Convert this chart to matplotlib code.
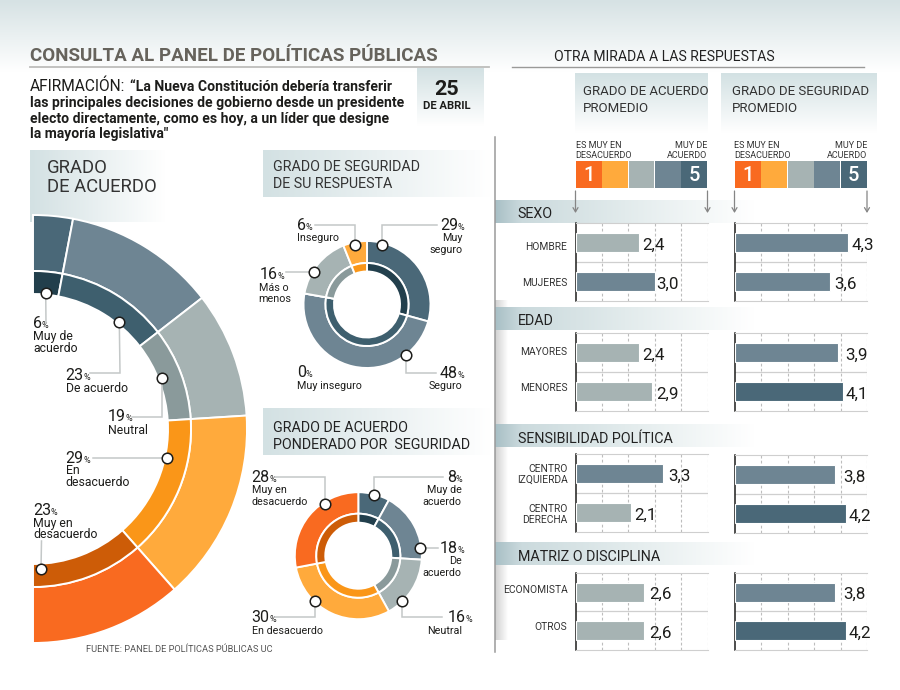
import numpy as np
import matplotlib
matplotlib.use("Agg")
import matplotlib.pyplot as plt
from matplotlib.colors import to_rgb

plt.rcParams['font.family'] = ['Roboto', 'DejaVu Sans']

# ---- data ----
acuerdo_vals = [6, 23, 19, 29, 23]
seguridad_vals = [29, 48, 0, 16, 6]
ponderado_vals = [8, 18, 16, 30, 28]

group_names = ['SEXO', 'EDAD', 'SENSIBILIDAD POLÍTICA', 'MATRIZ O DISCIPLINA']
group_rows = [['HOMBRE', 'MUJERES'], ['MAYORES', 'MENORES'],
              ['CENTRO\nIZQUIERDA', 'CENTRO\nDERECHA'], ['ECONOMISTA', 'OTROS']]
acuerdo_prom = [[2.4, 3.0], [2.4, 2.9], [3.3, 2.1], [2.6, 2.6]]
seguridad_prom = [[4.3, 3.6], [3.9, 4.1], [3.8, 4.2], [3.8, 4.2]]
scale = [1, 2, 3, 4, 5]

# ---- colours ----
OUT_AC = ['#4a6878', '#6e8593', '#a6b3b3', '#ffaa3c', '#f96a20']
IN_AC = ['#223f4c', '#3e5f6e', '#8a9a9b', '#fa9618', '#cd5c07']
OUT_SEG = ['#4a6878', '#6e8593', '#f96a20', '#a6b3b3', '#ffaa3c']
IN_SEG = ['#223f4c', '#3e5f6e', '#cd5c07', '#8a9a9b', '#fa9618']
LIGHT, MID, DARK = '#a6b3b3', '#6e8593', '#4a6878'
left_colors = [[LIGHT, MID], [LIGHT, LIGHT], [MID, LIGHT], [LIGHT, LIGHT]]
right_colors = [[MID, MID], [MID, DARK], [MID, DARK], [MID, DARK]]
TINT = '#d3e1e3'
LEAD = '#c4c8c8'
INK = '#1d1d1b'

W, H = 900, 690
fig = plt.figure(figsize=(W / 100, H / 100), dpi=100, facecolor='white')


def px_axes(zorder):
    a = fig.add_axes([0, 0, 1, 1], zorder=zorder)
    a.set_xlim(0, W)
    a.set_ylim(H, 0)
    a.axis('off')
    a.patch.set_alpha(0)
    return a


bg = px_axes(0)
ov = px_axes(5)
renderer = fig.canvas.get_renderer()


def box_axes(x0, y0, x1, y1):
    return fig.add_axes([x0 / W, 1 - y1 / H, (x1 - x0) / W, (y1 - y0) / H], zorder=2)


def grad(x0, y0, x1, y1, stops, horizontal=True):
    n = 128
    pos = np.linspace(0, 1, n)
    cols = [to_rgb(c) for _, c in stops]
    where = [p for p, _ in stops]
    arr = np.stack([np.interp(pos, where, [c[i] for c in cols]) for i in range(3)], axis=-1)
    arr = arr[None, :, :] if horizontal else arr[:, None, :]
    bg.imshow(arr, extent=(x0, x1, y1, y0), aspect='auto', interpolation='bilinear', zorder=1)
    bg.set_xlim(0, W)
    bg.set_ylim(H, 0)


def t(x, y, s, size, ha='left', color=INK, weight='normal', **kw):
    return ov.text(x, y, s, fontsize=size * 0.72, ha=ha, va='baseline', color=color,
                   fontweight=weight, **kw)


def pct(x, y, value, size=16):
    n = t(x, y, str(value), size)
    ext = n.get_window_extent(renderer)
    t(ext.x1 - 0.3, y, '%', 9)


def lines(x, y, rows, size=10.8, ha='left', step=11.5):
    for i, r in enumerate(rows):
        t(x, y + i * step, r, size, ha=ha)


def leader(pts):
    xs, ys = zip(*pts)
    ov.plot(xs, ys, color=LEAD, lw=1.1, zorder=3, solid_joinstyle='miter')
    ov.plot(xs[0], ys[0], 'o', ms=7.6, mfc='white', mec='#1d1d1b', mew=1.1, zorder=4)


def donut(cx, cy, r_hole, r_mid, r_out, vals, out_c, in_c, half=False):
    s = r_out + 3
    ax = box_axes(cx - s, cy - s, cx + s, cy + s)
    v = np.array(vals, dtype=float)
    v = v / v.sum() / 2 if half else v
    for rad, wid, cols in ((r_out, r_out - r_mid, out_c), (r_mid, r_mid - r_hole, in_c)):
        ax.pie(v, radius=rad, colors=cols, startangle=90, counterclock=False,
               normalize=not half,
               wedgeprops=dict(width=wid, edgecolor='white', linewidth=1.4))
    ax.set_xlim(-s, s)
    ax.set_ylim(-s, s)


# ---- backgrounds ----
grad(0, 0, W, 72, [(0, '#d6e2e4'), (1, '#ffffff')], horizontal=False)
grad(417, 68, 484, 126, [(0, TINT), (1, '#ffffff')], horizontal=False)
grad(575, 73, 708, 133, [(0, TINT), (1, '#ffffff')], horizontal=False)
grad(721, 73, 877, 133, [(0, TINT), (1, '#ffffff')], horizontal=False)
grad(30, 150, 166, 222, [(0, TINT), (1, '#ffffff')])
grad(263, 150, 491, 197, [(0, TINT), (1, '#ffffff')])
grad(263, 408, 491, 455, [(0, TINT), (1, '#ffffff')])
grad(495, 300, 508, 640, [(0, '#cfcfcf'), (1, '#ffffff')])
for y0 in (200, 307, 424, 542):
    grad(495, y0, 755, y0 + 23, [(0, '#a9c0c6'), (0.1, '#cbdadd'), (0.5, '#e2ebec'), (1, '#ffffff')])
bg.plot([30, 489], [66.5, 66.5], color='#bdbdbb', lw=1.3, zorder=2)
bg.plot([512, 864], [66.5, 66.5], color='#9a9a98', lw=1.0, zorder=2)
bg.plot([494.7, 494.7], [137, 652], color='#9a9a9a', lw=1.1, zorder=3)

# ---- header text ----
t(30, 61, 'CONSULTA AL PANEL DE POLÍTICAS PÚBLICAS', 18.8, color='#66635c', weight='bold')
t(30, 90.7, 'AFIRMACIÓN:', 15.5)
t(130, 90.7, '“La Nueva Constitución debería transferir', 14, weight='bold')
t(30, 106.7, 'las principales decisiones de gobierno desde un presidente', 14, weight='bold')
t(30, 122.7, 'electo directamente, como es hoy, a un líder que designe', 14, weight='bold')
t(30, 138, 'la mayoría legislativa"', 14, weight='bold')
t(447, 95, '25', 21.5, ha='center', weight='bold')
t(447, 109, 'DE ABRIL', 11.3, ha='center', weight='bold')
t(47, 172.7, 'GRADO', 18.5, color='#333333')
t(47, 192.3, 'DE ACUERDO', 18.5, color='#333333')
t(273, 171, 'GRADO DE SEGURIDAD', 14.3, color='#333333')
t(273, 188.3, 'DE SU RESPUESTA', 14.3, color='#333333')
t(272.7, 432.3, 'GRADO DE ACUERDO', 14.3, color='#222222')
t(272.7, 449.3, 'PONDERADO POR  SEGURIDAD', 14.3, color='#222222')
t(85.7, 651.7, 'FUENTE: PANEL DE POLÍTICAS PÚBLICAS UC', 9.3, color='#555555')
t(554.3, 61, 'OTRA MIRADA A LAS RESPUESTAS', 14, color='#222222')
t(582.7, 95, 'GRADO DE ACUERDO', 13.3, color='#333333')
t(582.7, 112, 'PROMEDIO', 13.3, color='#333333')
t(732.3, 95, 'GRADO DE SEGURIDAD', 13.3, color='#333333')
t(732.3, 112, 'PROMEDIO', 13.3, color='#333333')

# ---- donuts ----
donut(33, 429, 135, 158, 214, acuerdo_vals, OUT_AC, IN_AC, half=True)
donut(367, 304.5, 33, 41.5, 63.5, seguridad_vals, OUT_SEG, IN_SEG)
donut(358.3, 555.7, 33, 42, 63.5, ponderado_vals, OUT_AC, IN_AC)

# labels big donut
pct(33, 327.5, acuerdo_vals[0])
lines(33, 340, ['Muy de', 'acuerdo'], size=12.2)
pct(65.7, 380, acuerdo_vals[1])
lines(65.7, 391.7, ['De acuerdo'], size=12.2)
pct(107.7, 421, acuerdo_vals[2])
lines(107.7, 433.5, ['Neutral'], size=12.2)
pct(65.7, 462.7, acuerdo_vals[3])
lines(65.7, 474, ['En', 'desacuerdo'], size=12.2)
pct(33, 515, acuerdo_vals[4])
lines(33, 526.7, ['Muy en', 'desacuerdo'], size=12.2)
leader([(45.7, 292.7), (46, 323)])
leader([(119.3, 322.3), (120, 373), (90, 373)])
leader([(162, 378), (162, 417), (132, 417)])
leader([(167, 457.5), (93, 457.5)])
leader([(41, 569), (41.5, 541)])

# labels seguridad
pct(440, 230, seguridad_vals[0])
lines(462.7, 241.3, ['Muy', 'seguro'], ha='right')
pct(440, 377.7, seguridad_vals[1])
lines(462.7, 389, ['Seguro'], ha='right')
pct(296.7, 377.3, seguridad_vals[2])
lines(296.7, 389, ['Muy inseguro'])
pct(260, 279, seguridad_vals[3])
lines(258.7, 290.7, ['Más o', 'menos'])
pct(296.7, 230, seguridad_vals[4])
lines(296.7, 241.3, ['Inseguro'])
leader([(381.7, 245), (381.7, 225), (436.7, 225)])
leader([(405.7, 355), (405.7, 372.5), (436, 372.5)])
leader([(314.3, 272.3), (286, 272.3)])
leader([(355, 244.7), (355, 225), (315, 225)])

# labels ponderado
pct(447.3, 482.3, ponderado_vals[0])
lines(461.7, 493.3, ['Muy de', 'acuerdo'], ha='right')
pct(440, 552.7, ponderado_vals[1])
lines(461.7, 564.3, ['De', 'acuerdo'], ha='right')
pct(447.3, 622.3, ponderado_vals[2])
lines(461.7, 634, ['Neutral'], ha='right')
pct(251.7, 622.3, ponderado_vals[3])
lines(251.7, 634, ['En desacuerdo'])
pct(251.7, 482.3, ponderado_vals[4])
lines(251.7, 493.3, ['Muy en', 'desacuerdo'])
leader([(374.3, 495), (374.3, 477), (443, 477)])
leader([(420.3, 548), (438, 548)])
leader([(401.7, 601), (401.7, 617), (442, 617)])
leader([(315.3, 601.3), (315.3, 617), (275, 617)])
leader([(325, 504), (325, 477), (275, 477)])

# ---- scale keys ----
SCALE_C = ['#f96a20', '#ffaa3c', '#a6b3b3', '#6e8593', '#4a6878']
for x0, x1 in ((575.5, 707.5), (734.5, 867)):
    ax = box_axes(x0, 161, x1, 188)
    ax.bar(scale, 1, width=0.97, color=SCALE_C)
    ax.set_xlim(0.5, 5.5)
    ax.set_ylim(0, 1)
    ax.axis('off')
    for s in (scale[0], scale[-1]):
        ax.text(s, 0.47, str(s), color='white', ha='center', va='center',
                fontsize=20 * 0.72, fontweight='medium')
    t(x0, 148, 'ES MUY EN', 9, color='#333333')
    t(x0, 158.5, 'DESACUERDO', 9, color='#333333')
    t(x1, 148, 'MUY DE', 9, ha='right', color='#333333')
    t(x1, 158.5, 'ACUERDO', 9, ha='right', color='#333333')
    for xa in (x0, x1):
        ov.annotate('', xy=(xa, 213), xytext=(xa, 191),
                    arrowprops=dict(arrowstyle='->,head_width=0.18,head_length=0.3',
                                    color='#858585', lw=0.9, shrinkA=0, shrinkB=0))

# ---- bar panels ----
# panel tops per group, left and right columns
left_tops = [223.3, 333.3, 454.3, 572.7]
right_tops = [223.3, 333.3, 455.3, 572.7]
left_gaps = [[3, 2], [3, 4], [6, 3], [5, 5]]
right_gaps = [[3, 4], [7, 2], [8, 3], [8, 3]]
label_shifts = [[-4, -2], [1, 3], [-1, -2], [2, 4]]
section_base = [218, 325, 442.7, 561]


def panel(x0, x1, top, vals, colors, gaps, labels=None, shifts=None):
    ax = box_axes(x0, top, x1, top + 77.4)
    ypos = [0.5, 1.5]
    ax.barh(ypos, vals, height=0.49, color=colors, edgecolor='white', linewidth=0.8, zorder=3)
    ax.set_xlim(0, 5)
    ax.set_ylim(2, 0)
    ax.set_xticks(scale)
    ax.set_xticklabels([])
    ax.set_yticks([1])
    ax.tick_params(which='both', length=0, labelleft=False)
    ax.grid(axis='x', color='#bdbdbd', lw=0.8, ls=(0, (2.5, 2)), zorder=1)
    ax.grid(axis='y', which='major', color='#cfcfcf', lw=0.9, zorder=1)
    for side in ('top', 'bottom'):
        ax.spines[side].set_color('#cfcfcf')
    ax.spines['right'].set_visible(False)
    ax.spines['left'].set_color('#1d1d1b')
    ax.spines['left'].set_linewidth(1.1)
    ax.patch.set_alpha(0)
    for y, v, g in zip(ypos, vals, gaps):
        ax.annotate(f'{v:.1f}'.replace('.', ','), xy=(v, y), xytext=(g, -2.5),
                    textcoords='offset pixels', va='center', ha='left',
                    fontsize=17 * 0.72, color=INK, annotation_clip=False)
    if labels:
        for y, lab, sh in zip(ypos, labels, shifts):
            ax.annotate(lab, xy=(0, y), xytext=(-8, sh), textcoords='offset pixels',
                        ha='right', va='center', multialignment='right', linespacing=1.05,
                        fontsize=10.3 * 0.72, color='#333333', annotation_clip=False)


for i, name in enumerate(group_names):
    t(517.7, section_base[i], name, 14.2, color='#222222')
    panel(575.5, 707.5, left_tops[i], acuerdo_prom[i], left_colors[i], left_gaps[i],
          group_rows[i], label_shifts[i])
    panel(734.5, 867, right_tops[i], seguridad_prom[i], right_colors[i], right_gaps[i])

fig.savefig('out.png', dpi=100)
